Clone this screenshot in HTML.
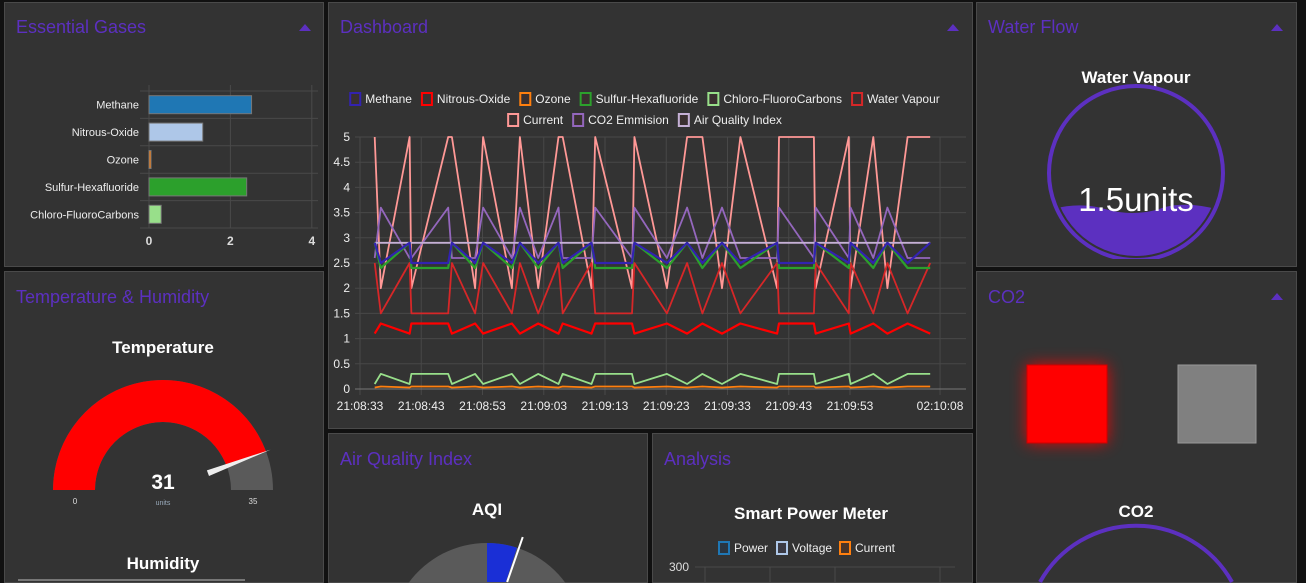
<!DOCTYPE html>
<html><head><meta charset="utf-8">
<style>
html,body{margin:0;padding:0;background:#111;width:1306px;height:583px;overflow:hidden;font-family:"Liberation Sans",sans-serif}
svg{display:block}
text{font-family:"Liberation Sans",sans-serif}
</style></head>
<body>
<svg id="page" width="1306" height="583" viewBox="0 0 1306 583">
<defs>
<filter id="glow" x="-60%" y="-60%" width="220%" height="220%"><feGaussianBlur stdDeviation="8"/></filter>
<clipPath id="clipP3"><rect x="977" y="3" width="318" height="256"/></clipPath>
<clipPath id="waterClip"><circle cx="1136" cy="173" r="83"/></clipPath>
</defs>
<g fill="#333" stroke="#4a4a4a" stroke-width="1">
<rect x="4.5" y="2.5" width="319" height="264"/>
<rect x="328.5" y="2.5" width="644" height="426"/>
<rect x="976.5" y="2.5" width="320" height="264"/>
<rect x="4.5" y="271.5" width="319" height="311"/>
<rect x="328.5" y="433.5" width="319" height="149"/>
<rect x="652.5" y="433.5" width="320" height="149"/>
<rect x="976.5" y="271.5" width="320" height="311"/>
</g>
<g fill="#5c30c0" font-size="18">
<text x="16" y="33">Essential Gases</text>
<text x="340" y="33">Dashboard</text>
<text x="988" y="33">Water Flow</text>
<text x="16" y="303">Temperature &amp; Humidity</text>
<text x="340" y="465">Air Quality Index</text>
<text x="664" y="465">Analysis</text>
<text x="988" y="303">CO2</text>
</g>
<g fill="#5c30c0">
<path d="M299 31 L305 24 L311 31Z"/>
<path d="M947 31 L953 24 L959 31Z"/>
<path d="M1271 31 L1277 24 L1283 31Z"/>
<path d="M1271 300 L1277 293 L1283 300Z"/>
</g>

<g id="barChart"></g>
<g id="lineChart"></g>

<g clip-path="url(#clipP3)">
<text x="1136" y="83" text-anchor="middle" fill="#fff" font-size="17" font-weight="bold">Water Vapour</text>
<circle cx="1136" cy="173" r="87" fill="none" stroke="#5c30c0" stroke-width="4"/>
<path clip-path="url(#waterClip)" d="M1040 213 Q1075 200 1105 209 Q1136 218 1165 207 Q1195 200 1235 215 L1235 258 L1040 258Z" fill="#5c30c0"/>
<text x="1136" y="211" text-anchor="middle" fill="#fff" font-size="33">1.5units</text>
</g>

<g>
<text x="163" y="353" text-anchor="middle" fill="#fff" font-size="17" font-weight="bold">Temperature</text>
<path id="tempArcBg" fill="#5a5a5a"/>
<path id="tempArc" fill="#ff0000"/>
<path id="tempNeedle" fill="#eee"/>
<text x="163" y="489" text-anchor="middle" fill="#fff" font-size="21" font-weight="bold">31</text>
<text x="163" y="505" text-anchor="middle" fill="#9ab" font-size="7">units</text>
<text x="75" y="504" text-anchor="middle" fill="#ddd" font-size="8">0</text>
<text x="253" y="504" text-anchor="middle" fill="#ddd" font-size="8">35</text>
<text x="163" y="569" text-anchor="middle" fill="#fff" font-size="17" font-weight="bold">Humidity</text>
<line x1="18" y1="580" x2="245" y2="580" stroke="#777" stroke-width="2"/>
</g>
<g>
<text x="487" y="515" text-anchor="middle" fill="#fff" font-size="17" font-weight="bold">AQI</text>
<path d="M408.5 583 A97 97 0 0 1 565.5 583 Z" fill="#5a5a5a"/>
<path id="aqiArc" fill="#1a2fd6"/>
<line id="aqiNeedle" stroke="#fff" stroke-width="2"/>
</g>
<g>
<text x="811" y="519" text-anchor="middle" fill="#fff" font-size="17" font-weight="bold">Smart Power Meter</text>
<g font-size="12" fill="#eee">
<rect x="719" y="542" width="10" height="12" fill="#2a3540" stroke="#1f77b4" stroke-width="2"/><text x="734" y="552">Power</text>
<rect x="777" y="542" width="10" height="12" fill="#3a3a44" stroke="#aec7e8" stroke-width="2"/><text x="792" y="552">Voltage</text>
<rect x="840" y="542" width="10" height="12" fill="#4a3428" stroke="#ff7f0e" stroke-width="2"/><text x="855" y="552">Current</text>
</g>
<text x="689" y="571" text-anchor="end" fill="#ddd" font-size="12">300</text>
<g stroke="#4a4a4a">
<line x1="695" y1="567" x2="955" y2="567"/>
<line x1="705" y1="567" x2="705" y2="582"/><line x1="770" y1="567" x2="770" y2="582"/><line x1="835" y1="567" x2="835" y2="582"/><line x1="940" y1="567" x2="940" y2="582"/>
</g>
</g>
<g>
<rect x="1027" y="365" width="80" height="78" fill="#ff0000" filter="url(#glow)" opacity="0.9"/>
<rect x="1027" y="365" width="80" height="78" fill="#ff0000" stroke="#c00"/>
<rect x="1178" y="365" width="78" height="78" fill="#808080" stroke="#999"/>
<text x="1136" y="517" text-anchor="middle" fill="#fff" font-size="17" font-weight="bold">CO2</text>
<path d="M1040 582 A110 110 0 0 1 1232 582" fill="none" stroke="#5c30c0" stroke-width="4"/>
</g>
<rect x="1297" y="0" width="9" height="583" fill="#111"/>
</svg>
<script>
var NS='http://www.w3.org/2000/svg';
function mk(parent,tag,attrs){var e=document.createElementNS(NS,tag);for(var k in attrs)e.setAttribute(k,attrs[k]);parent.appendChild(e);return e;}

var barCategories=['Methane','Nitrous-Oxide','Ozone','Sulfur-Hexafluoride','Chloro-FluoroCarbons'];
var barValues=[2.52,1.32,0.05,2.4,0.3];
var barColors=['#1f77b4','#aec7e8','#ff7f0e','#2ca02c','#98df8a'];
var barTicks=[0,2,4];

var lineTimes=[2.4,3.4,8.1,8.4,14.4,15,18.8,20.1,24.8,26.1,29.1,32.4,33.1,37.8,38.4,44.4,44.8,50.1,53.4,55.9,59.1,62.1,68.1,68.4,74.1,74.4,79.8,80.1,83.8,86.1,89.4,93.1];
var seriesNames=['Methane','Nitrous-Oxide','Ozone','Sulfur-Hexafluoride','Chloro-FluoroCarbons','Water Vapour','Current','CO2 Emmision','Air Quality Index'];
var seriesColors=['#3322b0','#ff0000','#ff7f0e','#2ca02c','#98df8a','#d62728','#ff9896','#9467bd','#c5b0d5'];
var methane=[2.9,2.5,2.9,2.5,2.5,2.9,2.5,2.9,2.5,2.9,2.5,2.9,2.5,2.9,2.5,2.5,2.9,2.5,2.9,2.5,2.9,2.5,2.9,2.5,2.5,2.9,2.5,2.9,2.5,2.9,2.5,2.9];
var nitrous=[1.1,1.3,1.1,1.3,1.3,1.1,1.3,1.1,1.3,1.1,1.3,1.1,1.3,1.1,1.3,1.3,1.1,1.3,1.1,1.3,1.1,1.3,1.1,1.3,1.3,1.1,1.3,1.1,1.3,1.1,1.3,1.1];
var ozone=[0.03,0.05,0.03,0.05,0.05,0.03,0.05,0.03,0.05,0.03,0.05,0.03,0.05,0.03,0.05,0.05,0.03,0.05,0.03,0.05,0.03,0.05,0.03,0.05,0.05,0.03,0.05,0.03,0.05,0.03,0.05,0.05];
var sulfur=[2.9,2.4,2.9,2.4,2.4,2.9,2.4,2.9,2.4,2.9,2.4,2.9,2.4,2.9,2.4,2.4,2.9,2.4,2.9,2.4,2.9,2.4,2.9,2.4,2.4,2.9,2.4,2.9,2.4,2.9,2.4,2.4];
var cfc=[0.1,0.3,0.1,0.3,0.3,0.1,0.3,0.1,0.3,0.1,0.3,0.1,0.3,0.1,0.3,0.3,0.1,0.3,0.1,0.3,0.1,0.3,0.1,0.3,0.3,0.1,0.3,0.1,0.3,0.1,0.3,0.3];
var waterVapour=[2.5,1.5,2.5,1.5,1.5,2.5,1.5,2.5,1.5,2.5,1.5,2.5,1.5,2.5,1.5,1.5,2.5,1.5,2.5,1.5,2.5,1.5,2.5,1.5,1.5,2.5,1.5,2.5,1.5,2.5,1.5,2.5];
var current=[5,2,5,2,5,5,2,5,2,5,2,5,5,2,5,2,5,2,5,5,2,5,2,5,5,2,5,2,5,2,5,5];
var co2=[2.6,3.6,2.6,2.6,3.6,2.6,2.6,3.6,2.6,3.6,2.6,3.6,2.6,2.6,3.6,2.6,3.6,2.6,3.6,2.6,3.6,2.6,2.6,3.6,2.6,3.6,2.6,3.6,2.6,3.6,2.6,2.6];
var aqi=[2.9,2.9,2.9,2.9,2.9,2.9,2.9,2.9,2.9,2.9,2.9,2.9,2.9,2.9,2.9,2.9,2.9,2.9,2.9,2.9,2.9,2.9,2.9,2.9,2.9,2.9,2.9,2.9,2.9,2.9,2.9,2.9];
var yTicks=[0,0.5,1,1.5,2,2.5,3,3.5,4,4.5,5];
var xTickLabels=['21:08:33','21:08:43','21:08:53','21:09:03','21:09:13','21:09:23','21:09:33','21:09:43','21:09:53','02:10:08'];
var xTickSecs=[0,10,20,30,40,50,60,70,80,94.7];

var tempValue=31, tempMax=35;
var aqiValue=0.1;

(function(){
  var g=document.getElementById('barChart');
  var x0=149, top=91, rowH=27.4, n=barCategories.length;
  function bx(v){return x0+v*40.7;}
  barTicks.forEach(function(t){
    var l=mk(g,'line',{x1:bx(t),x2:bx(t),y1:85,y2:228,stroke:'#4a4a4a'});
    
    
    var tx=mk(g,'text',{x:bx(t),y:245,'text-anchor':'middle',fill:'#ddd','font-size':12,'font-weight':'bold'});tx.textContent=t;
    
    
  });
  for(var i=0;i<=n;i++){
    var gl=mk(g,'line',{x1:140,x2:318,y1:top+i*rowH,y2:top+i*rowH,stroke:'#4a4a4a'});
    
    
  }
  barCategories.forEach(function(c,i){
    var cy=top+i*rowH+rowH/2;
    var r=mk(g,'rect',{x:x0,y:cy-9,width:Math.max(bx(barValues[i])-x0,1.5),height:18,fill:barColors[i],stroke:'#777'});
    
    
    var t=mk(g,'text',{x:139,y:cy+4,'text-anchor':'end',fill:'#eee','font-size':11});t.textContent=c;
    
    
  });
})();

(function(){
  var g=document.getElementById('lineChart');
  var y0=389, yk=50.4, x0=360, xk=6.125;
  function X(s){return x0+s*xk;}
  function Y(v){return y0-v*yk;}
  yTicks.forEach(function(t){
    var l=mk(g,'line',{x1:355,x2:966,y1:Y(t),y2:Y(t),stroke:'#484848'});
    
    
    var tx=mk(g,'text',{x:350,y:Y(t)+4,'text-anchor':'end',fill:'#eee','font-size':12});tx.textContent=t;
    
    
  });
  xTickLabels.forEach(function(lbl,i){
    var xx=X(xTickSecs[i]);
    var l=mk(g,'line',{x1:xx,x2:xx,y1:137,y2:395,stroke:'#484848'});
    
    
    var tx=mk(g,'text',{x:xx,y:410,'text-anchor':'middle',fill:'#eee','font-size':12});tx.textContent=lbl;
    
    
  });
  var ax=mk(g,'line',{x1:355,x2:966,y1:y0,y2:y0,stroke:'#777'});
  
  
  var data=[methane,nitrous,ozone,sulfur,cfc,waterVapour,current,co2,aqi];
  var order=[6,5,7,8,4,2,1,3,0];
  order.forEach(function(si){
    var vals=data[si];
    var d=vals.map(function(v,i){return (i?'L':'M')+X(lineTimes[i]).toFixed(1)+' '+Y(v).toFixed(1);}).join(' ');
    var p=mk(g,'path',{d:d,fill:'none',stroke:seriesColors[si],'stroke-width':(si==0||si==1||si==3)?2.2:1.8,'stroke-linejoin':'round'});
    
    
  });
  var rows=[[0,1,2,3,4,5],[6,7,8]];
  var ctx=document.createElement('canvas').getContext('2d');ctx.font='12px "Liberation Sans"';
  rows.forEach(function(r,ri){
    var w=r.reduce(function(a,si){return a+17+ctx.measureText(seriesNames[si]).width+8;},0);
    var x=650-w/2, y=ri?124:103;
    r.forEach(function(si){
      var b=mk(g,'rect',{x:x,y:y-10,width:10,height:12,fill:'#3a3030',stroke:seriesColors[si],'stroke-width':2});
      
      
      var t=mk(g,'text',{x:x+15,y:y,fill:'#eee','font-size':12});t.textContent=seriesNames[si];
      
      
      x+=17+ctx.measureText(seriesNames[si]).width+8;
    });
  });
})();

(function(){
  var cx=163,cy=490,R=110,r=68;
  function pt(a,rad){return [cx+rad*Math.cos(a),cy-rad*Math.sin(a)];}
  function arc(a1,a2){var p1=pt(a1,R),p2=pt(a2,R),p3=pt(a2,r),p4=pt(a1,r);
    return 'M'+p1+' A'+R+' '+R+' 0 0 1 '+p2+' L'+p3+' A'+r+' '+r+' 0 0 0 '+p4+'Z';}
  var av=Math.PI*(1-tempValue/tempMax);
  document.getElementById('tempArcBg').setAttribute('d',arc(Math.PI,0));
  document.getElementById('tempArc').setAttribute('d',arc(Math.PI,av));
  var tip=pt(av,R+5), b1=pt(av,r-20);
  var nx=-Math.sin(av)*3, ny=-Math.cos(av)*3;
  document.getElementById('tempNeedle').setAttribute('d','M'+tip+' L'+(b1[0]+nx)+' '+(b1[1]+ny)+' L'+(b1[0]-nx)+' '+(b1[1]-ny)+'Z');
  var acx=487,acy=640,AR=97,bottom=582;
  var aa=Math.PI/2-aqiValue*Math.PI;
  var e=[acx+AR*Math.cos(aa),acy-AR*Math.sin(aa)];
  var k=(acy-bottom)/Math.sin(aa);
  var bpt=[acx+k*Math.cos(aa),bottom];
  document.getElementById('aqiArc').setAttribute('d','M'+acx+' '+bottom+' L'+acx+' '+(acy-AR)+' A'+AR+' '+AR+' 0 0 1 '+e+' L'+bpt+'Z');
  var na=aa-0.02, k2=(acy-bottom)/Math.sin(na);
  var n=document.getElementById('aqiNeedle');
  n.setAttribute('x1',acx+k2*Math.cos(na));n.setAttribute('y1',bottom);
  n.setAttribute('x2',acx+(AR+12)*Math.cos(na));n.setAttribute('y2',acy-(AR+12)*Math.sin(na));
})();
</script>
</body></html>
